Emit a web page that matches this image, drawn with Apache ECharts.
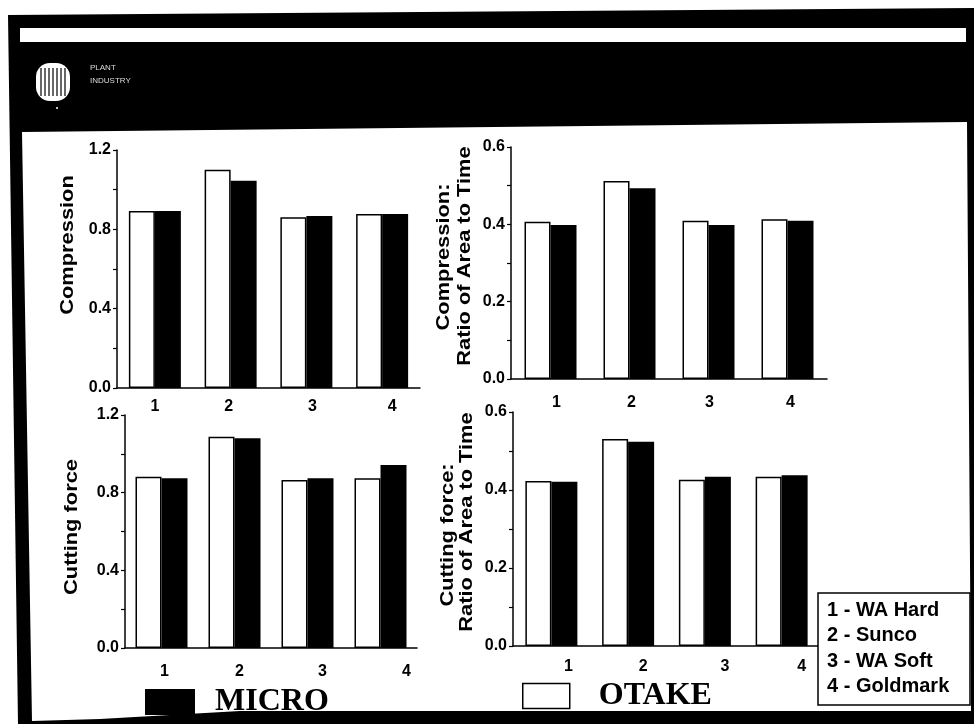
<!DOCTYPE html>
<html>
<head>
<meta charset="utf-8">
<script src="https://cdn.jsdelivr.net/npm/echarts@6/dist/echarts.min.js"></script>
<style>
  html, body { margin: 0; padding: 0; background: #fff; }
  #chart { width: 974px; height: 724px; }
</style>
</head>
<body>
<div id="chart"></div>
<script>
// values
const categories = ['1', '2', '3', '4'];
const sampleNames = ['WA Hard', 'Sunco', 'WA Soft', 'Goldmark'];

const compressionOtake = [0.893, 1.100, 0.861, 0.877];
const compressionMicro = [0.893, 1.045, 0.867, 0.877];
const compRatioOtake = [0.407, 0.512, 0.409, 0.413];
const compRatioMicro = [0.398, 0.493, 0.398, 0.409];
const cuttingOtake = [0.882, 1.088, 0.865, 0.874];
const cuttingMicro = [0.874, 1.080, 0.874, 0.942];
const cutRatioOtake = [0.423, 0.531, 0.426, 0.434];
const cutRatioMicro = [0.421, 0.524, 0.434, 0.438];

const yMax = [1.2, 0.6, 1.2, 0.6];
const yStep = [0.4, 0.2, 0.4, 0.2];

// layout of the four panels (px)
const grids = [
  { left: 117, top: 150, width: 303, height: 238 },
  { left: 511, top: 147, width: 316, height: 232 },
  { left: 125, top: 415, width: 292, height: 233 },
  { left: 513, top: 412, width: 307, height: 234 }
];
// the scanned x labels drift a little from the bar centres
const labelShift = [[0, -2, 6, 10], [6, 2, 1, 3], [3, 5, 15, 26], [17, 15, 20, 20]];
const labelMargin = [11, 16, 16, 13];

const panels = [
  [compressionOtake, compressionMicro],
  [compRatioOtake, compRatioMicro],
  [cuttingOtake, cuttingMicro],
  [cutRatioOtake, cutRatioMicro]
];

const sans = '"Liberation Sans", Arial, Helvetica, sans-serif';
const serif = '"Liberation Serif", "Times New Roman", serif';

function richFor(p) {
  const rich = {};
  labelShift[p].forEach((s, i) => {
    rich['s' + i] = {
      fontFamily: sans, fontWeight: 'bold', fontSize: 16, color: '#000',
      padding: s >= 0 ? [0, 0, 0, 2 * s] : [0, -2 * s, 0, 0]
    };
  });
  return rich;
}

const xAxes = grids.map((g, p) => ({
  type: 'category',
  gridIndex: p,
  data: categories,
  axisTick: { show: false },
  axisLine: { lineStyle: { color: '#000', width: 1.5 } },
  axisLabel: {
    margin: labelMargin[p],
    formatter: (v, i) => '{s' + i + '|' + v + '}',
    rich: richFor(p)
  }
}));

const yAxes = grids.map((g, p) => ({
  type: 'value',
  gridIndex: p,
  min: 0,
  max: yMax[p],
  interval: yStep[p],
  splitLine: { show: false },
  axisLine: { show: true, lineStyle: { color: '#000', width: 1.5 } },
  axisTick: { show: true, length: 4, lineStyle: { color: '#000', width: 1.2 } },
  minorTick: { show: true, splitNumber: 2, length: 4, lineStyle: { color: '#000', width: 1.2 } },
  axisLabel: {
    margin: 6,
    color: '#000',
    fontFamily: sans,
    fontWeight: 'bold',
    fontSize: 16,
    formatter: v => v.toFixed(1)
  }
}));

const series = [];
panels.forEach((pair, p) => {
  series.push({
    name: 'OTAKE', type: 'bar', xAxisIndex: p, yAxisIndex: p,
    data: pair[0], barWidth: 26, barGap: '0%',
    itemStyle: { color: '#fff', borderColor: '#000', borderWidth: 1.5 }
  });
  series.push({
    name: 'MICRO', type: 'bar', xAxisIndex: p, yAxisIndex: p,
    data: pair[1], barWidth: 26, barGap: '0%',
    itemStyle: { color: '#000' }
  });
});

function vText(text, x, y) {
  return {
    type: 'text', x: x, y: y, rotation: Math.PI / 2, scaleX: 1.15,
    style: {
      text: text, fill: '#000', font: 'bold 19px ' + sans,
      textAlign: 'center', textVerticalAlign: 'middle'
    }
  };
}

const graphics = [
  // scanned page frame and black header
  { type: 'polygon', z: -5, shape: { points: [[8, 15], [974, 8], [974, 724], [18, 724]] }, style: { fill: '#000' } },
  { type: 'rect', z: -4, shape: { x: 20, y: 28, width: 946, height: 14 }, style: { fill: '#fff' } },
  { type: 'polygon', z: -4, shape: { points: [[22, 132], [967, 122], [971, 711], [240, 711], [100, 719], [32, 721]] }, style: { fill: '#fff' } },
  { type: 'rect', z: -3, shape: { x: 36, y: 63, width: 34, height: 38, r: 14 }, style: { fill: '#fff' } },
  { type: 'circle', z: -3, shape: { cx: 57, cy: 108, r: 1 }, style: { fill: '#fff' } },
  { type: 'text', x: 90, y: 68, style: { text: 'PLANT', fill: '#ddd', font: '8px ' + sans, textVerticalAlign: 'middle' } },
  { type: 'text', x: 90, y: 81, style: { text: 'INDUSTRY', fill: '#ddd', font: '8px ' + sans, textVerticalAlign: 'middle' } },
  // y-axis titles
  vText('Compression', 68, 245),
  vText('Compression:', 444, 257),
  vText('Ratio of Area to Time', 465, 256),
  vText('Cutting force', 72, 527),
  vText('Cutting force:', 448, 535),
  vText('Ratio of Area to Time', 467, 522),
  // sample key box
  { type: 'rect', z: 10, shape: { x: 818, y: 593, width: 152, height: 112 }, style: { fill: '#fff', stroke: '#000', lineWidth: 1.5 } }
];
// logo stripes
for (let lx = 41; lx <= 65; lx += 4) {
  graphics.push({ type: 'line', z: -2, shape: { x1: lx, y1: 68, x2: lx, y2: 96 }, style: { stroke: '#000', lineWidth: 1.2 } });
}
sampleNames.forEach((n, i) => {
  graphics.push({
    type: 'text', z: 11, x: 827, y: 610 + i * 25.5,
    style: { text: (i + 1) + ' - ' + n, fill: '#000', font: 'bold 20px ' + sans, textVerticalAlign: 'middle' }
  });
});

const chart = echarts.init(document.getElementById('chart'));
chart.setOption({
  backgroundColor: '#fff',
  animation: false,
  grid: grids.map(g => Object.assign({ containLabel: false }, g)),
  xAxis: xAxes,
  yAxis: yAxes,
  legend: [
    {
      data: ['MICRO'], left: 145, top: 683, padding: 0, selectedMode: false,
      itemWidth: 50, itemHeight: 26, icon: 'rect',
      itemStyle: { color: '#000', borderWidth: 0 },
      textStyle: { fontFamily: serif, fontWeight: 'bold', fontSize: 32, lineHeight: 32, color: '#000', padding: [0, 0, 6, 15] }
    },
    {
      data: ['OTAKE'], left: 522, top: 677, padding: 0, selectedMode: false,
      itemWidth: 47, itemHeight: 25, icon: 'rect',
      itemStyle: { color: '#fff', borderColor: '#000', borderWidth: 1.5 },
      textStyle: { fontFamily: serif, fontWeight: 'bold', fontSize: 32, lineHeight: 32, color: '#000', padding: [0, 0, 6, 24] }
    }
  ],
  graphic: { elements: graphics },
  series: series
});
</script>
</body>
</html>
